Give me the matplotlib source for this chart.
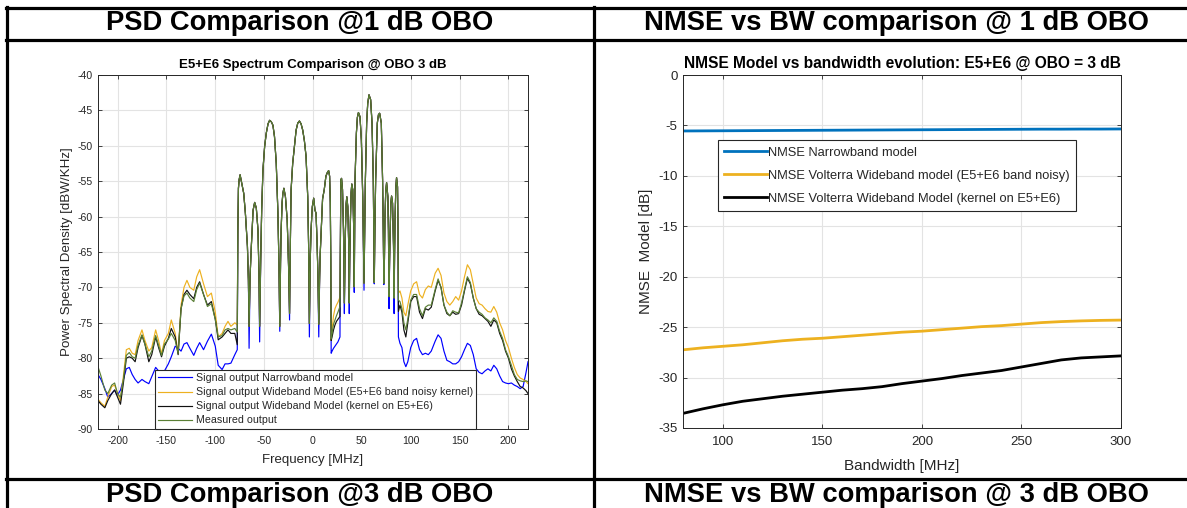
import matplotlib
matplotlib.use('Agg')
import matplotlib.pyplot as plt
import numpy as np
from matplotlib.lines import Line2D

plt.rcParams['font.family'] = ['Liberation Sans', 'DejaVu Sans']
plt.rcParams['axes.unicode_minus'] = False

# ------------------------------------------------------------------ data
# Table captions
header_top = ["PSD Comparison @1 dB OBO", "NMSE vs BW comparison @ 1 dB OBO"]
header_bottom = ["PSD Comparison @3 dB OBO", "NMSE vs BW comparison @ 3 dB OBO"]

psd_title = "E5+E6 Spectrum Comparison @ OBO 3 dB"
psd_labels = ["Signal output Narrowband model",
              "Signal output Wideband Model (E5+E6 band noisy kernel)",
              "Signal output Wideband Model (kernel on E5+E6)",
              "Measured output"]

# In-band lobes (E5 and E6), common to all curves
lobe_freq = [-76.9, -76.3, -75.6, -74.6, -73.2, -70.9, -69.2, -67.1, -66.1,
             -64.4, -63.1, -61.3, -59.7, -58.0, -56.3, -55.3,
             -53.5, -52.5, -51.2, -49.5, -47.8, -46.0, -44.4, -42.7, -41.0, -39.4, -37.6, -35.9, -34.8,
             -33.2, -32.6, -31.6, -30.8, -29.8, -28.2, -26.4, -25.0,
             -23.2, -22.4, -20.8, -19.0, -17.3, -15.6, -13.9, -12.2, -10.5, -8.8, -7.1, -5.4, -4.5,
             -2.8, -2.0, -0.7, 0.7, 2.0, 3.1, 4.1, 5.0,
             6.8, 7.4, 8.8, 9.8, 11.5, 13.2, 14.6, 16.0, 17.0, 17.7, 18.2,
             27.9, 28.5, 29.2, 30.2, 31.2, 31.7,
             32.6, 33.2, 33.9, 34.6, 35.6, 36.6,
             37.6, 38.3, 39.0, 39.7, 40.7, 41.7,
             42.6, 43.0, 44.4, 45.4, 46.5, 48.1, 49.5, 50.9, 51.6,
             52.8, 53.6, 54.9, 56.0, 57.3, 59.0, 60.4, 61.7, 62.2,
             63.3, 64.1, 65.8, 67.0, 68.2, 69.9, 71.2, 71.9,
             73.1, 73.6, 74.4, 75.3, 76.6, 77.2,
             78.4, 79.0, 79.7, 80.4, 81.4, 82.4,
             83.5, 84.1, 84.8, 85.5, 86.5, 87.0]
lobe_db = [-62.0, -56.0, -54.8, -54.1, -55.1, -56.7, -59.5, -64.2, -69.0,
           -68.5, -64.2, -59.1, -58.0, -58.8, -61.9, -68.0,
           -66.0, -59.0, -53.4, -50.1, -48.2, -46.9, -46.4, -46.6, -47.1, -48.7, -52.5, -59.5, -67.0,
           -66.5, -61.9, -58.0, -56.7, -56.0, -57.2, -60.5, -67.0,
           -64.0, -56.2, -52.5, -50.1, -47.8, -46.8, -46.5, -46.9, -47.8, -49.3, -51.5, -57.2, -64.0,
           -66.0, -61.9, -58.6, -57.4, -59.1, -59.5, -63.3, -68.0,
           -68.5, -65.2, -60.5, -57.5, -56.2, -54.3, -53.8, -53.5, -54.3, -58.0, -66.0,
           -66.0, -54.8, -54.6, -56.2, -61.9, -67.0,
           -67.0, -61.9, -58.2, -57.2, -58.6, -64.2,
           -66.0, -60.5, -56.6, -55.4, -56.2, -61.9,
           -62.0, -54.8, -48.2, -46.0, -45.3, -45.9, -49.2, -57.2, -64.0,
           -63.0, -54.8, -46.8, -44.0, -42.8, -43.5, -46.8, -54.8, -62.0,
           -62.0, -54.8, -46.8, -45.6, -45.4, -46.8, -54.8, -62.0,
           -66.0, -60.5, -56.5, -55.2, -57.2, -62.0,
           -66.0, -61.9, -58.0, -57.1, -58.1, -64.2,
           -65.0, -59.5, -55.8, -54.5, -55.8, -62.0]

# Null depths between lobes
null_freq = [-65.4, -54.6, -34.0, -24.0, -3.7, 5.9, 32.1, 37.1, 42.2, 52.2, 62.7, 72.5, 77.8, 83.0]
null_db_measured = [-75.5, -75.5, -75.5, -73.7, -75.1, -75.2, -72.2, -72.2, -69.9, -69.4, -69.3, -69.4, -71.3, -71.5]
null_db_narrowband = [-78.6, -77.7, -76.2, -74.6, -77.0, -77.0, -73.7, -73.7, -70.7, -70.4, -69.5, -69.6, -73.0, -73.7]

# Left out-of-band skirt
left_freq = [-220, -217, -213, -210, -206, -203, -200, -197, -194, -191, -188, -185, -182, -179,
             -175, -172, -168, -165, -161, -158, -155, -152, -148, -145, -141, -138, -135, -132,
             -129, -126, -122, -119, -116, -112, -108, -104, -100, -97, -93, -90, -87, -84, -80, -77.5]
left_narrowband = [-82.3, -83.0, -84.3, -85.5, -85.0, -84.5, -85.2, -84.5, -83.0, -81.5, -81.3, -82.3,
                   -83.0, -83.5, -83.0, -83.3, -83.6, -82.6, -81.3, -81.8, -82.4, -81.8, -80.8, -79.8,
                   -78.3, -78.6, -79.0, -78.0, -77.8, -78.6, -79.6, -78.6, -77.8, -78.8, -77.6, -76.6,
                   -78.3, -81.0, -81.6, -80.8, -80.8, -80.7, -79.5, -78.8]
left_wb_noisy = [-85.8, -86.3, -86.8, -85.5, -84.0, -83.8, -85.0, -86.0, -82.5, -78.8, -78.6, -79.3,
                 -79.5, -77.5, -76.0, -77.5, -79.0, -78.5, -76.0, -77.5, -79.4, -77.5, -76.5, -74.6,
                 -76.5, -79.3, -72.5, -70.0, -69.0, -70.0, -70.4, -68.5, -67.5, -69.5, -71.3, -70.8,
                 -73.5, -77.0, -76.5, -75.5, -74.8, -75.5, -75.0, -75.3]
left_wb_kernel = [-86.0, -86.5, -87.0, -86.0, -85.0, -84.5, -85.5, -86.5, -83.5, -80.0, -79.8, -80.0,
                  -80.5, -78.5, -76.8, -78.0, -80.5, -79.5, -77.0, -78.5, -79.8, -78.3, -77.2, -75.8,
                  -77.0, -79.5, -73.0, -71.0, -70.4, -71.0, -71.6, -70.0, -69.2, -71.0, -72.5, -72.0,
                  -74.5, -77.4, -77.0, -76.5, -76.0, -76.5, -76.5, -78.1]
left_measured = [-81.2, -82.5, -84.5, -85.0, -83.8, -83.5, -85.0, -85.5, -83.0, -79.6, -79.2, -79.8,
                 -80.0, -78.2, -76.7, -78.0, -79.8, -79.0, -76.8, -78.2, -79.6, -78.0, -77.3, -76.5,
                 -77.5, -79.3, -73.0, -71.2, -70.8, -71.5, -72.0, -70.3, -69.4, -71.0, -72.7, -72.3,
                 -74.5, -77.0, -76.8, -76.0, -75.8, -76.0, -75.8, -76.3]

# Gap between E5 and E6
gap_freq = [18.6, 19.5, 21.0, 22.5, 24.0, 25.5, 27.0, 27.6]
gap_narrowband = [-79.3, -79.0, -78.6, -78.3, -78.0, -77.7, -77.2, -77.0]
gap_wb_noisy = [-77.5, -76.0, -74.0, -73.0, -72.5, -72.1, -71.6, -71.3]
gap_wb_kernel = [-77.5, -77.0, -76.0, -75.3, -74.8, -74.5, -74.2, -74.1]
gap_measured = [-77.3, -76.5, -75.2, -74.6, -74.0, -73.5, -72.9, -72.7]

# Right out-of-band skirt
right_freq = [87.4, 89, 91, 93, 95, 97, 100, 103, 106, 109, 112, 115, 118, 121, 125, 128, 131, 134,
              137, 140, 143, 146, 149, 152, 155, 158, 161, 164, 167, 170, 173, 176, 179, 182, 185,
              188, 191, 194, 197, 200, 203, 206, 209, 212, 215, 218, 220]
right_wb_noisy = [-70.8, -70.5, -71.5, -73.5, -74.0, -72.5, -70.5, -69.5, -69.2, -71.0, -71.5, -70.3,
                  -69.8, -70.0, -68.0, -67.3, -68.3, -70.8, -72.0, -72.5, -72.0, -71.3, -71.8, -70.5,
                  -68.5, -66.8, -67.5, -69.5, -71.5, -72.3, -72.5, -73.0, -73.4, -73.5, -72.7, -73.5,
                  -75.0, -76.0, -77.5, -78.5, -80.0, -81.3, -82.3, -82.8, -83.0, -83.3, -83.6]
right_wb_kernel = [-73.4, -72.5, -73.5, -76.0, -77.0, -75.0, -72.0, -71.3, -71.3, -73.5, -74.4, -73.0,
                   -73.2, -72.8, -70.5, -69.0, -70.0, -72.5, -73.7, -74.0, -73.5, -73.8, -73.7, -72.5,
                   -70.5, -68.7, -69.5, -71.5, -73.0, -73.8, -74.0, -74.4, -74.8, -75.5, -74.6, -75.0,
                   -76.5, -77.5, -79.0, -80.0, -81.5, -82.5, -83.3, -84.0, -84.2, -84.6, -85.0]
right_measured = [-71.8, -72.0, -73.0, -75.0, -76.0, -74.5, -71.8, -71.0, -71.0, -73.0, -74.0, -72.8,
                  -72.5, -72.5, -70.3, -68.8, -70.0, -72.5, -73.5, -74.0, -73.3, -73.5, -73.6, -72.2,
                  -70.3, -68.5, -69.3, -71.5, -73.0, -73.5, -73.8, -74.3, -74.6, -75.0, -74.3, -74.8,
                  -76.2, -77.2, -78.8, -79.8, -81.0, -82.3, -83.0, -83.2, -83.3, -83.2, -83.3]
right_narrowband = [-77.0, -77.9, -78.5, -80.5, -81.2, -80.5, -78.5, -77.5, -77.2, -78.8, -79.5, -79.3,
                    -79.5, -79.0, -77.6, -76.7, -77.2, -79.0, -80.3, -80.5, -80.8, -80.8, -80.5, -79.8,
                    -78.8, -77.9, -78.2, -79.5, -81.5, -82.0, -82.2, -81.8, -81.5, -81.8, -81.0, -81.5,
                    -82.5, -83.3, -83.5, -83.6, -83.5, -83.8, -84.0, -84.3, -84.0, -82.0, -80.5]

# NMSE vs bandwidth
nmse_title = "NMSE Model vs bandwidth evolution: E5+E6 @ OBO = 3 dB"
nmse_labels = ["NMSE Narrowband model",
               "NMSE Volterra Wideband model (E5+E6 band noisy)",
               "NMSE Volterra Wideband Model (kernel on E5+E6)"]
bandwidth = [80, 90, 100, 110, 120, 130, 140, 150, 160, 170, 180, 190, 200, 210, 220, 230,
             240, 250, 260, 270, 280, 290, 300]
nmse_narrowband = [-5.55, -5.54, -5.53, -5.52, -5.51, -5.50, -5.49, -5.48, -5.47, -5.46, -5.45,
                   -5.44, -5.43, -5.42, -5.41, -5.40, -5.39, -5.38, -5.37, -5.37, -5.36, -5.36, -5.35]
nmse_wb_noisy = [-27.25, -27.05, -26.9, -26.75, -26.55, -26.35, -26.2, -26.1, -25.95, -25.8, -25.65,
                 -25.5, -25.4, -25.25, -25.1, -24.95, -24.85, -24.7, -24.55, -24.45, -24.38, -24.33, -24.3]
nmse_wb_kernel = [-33.55, -33.1, -32.7, -32.35, -32.1, -31.85, -31.65, -31.45, -31.25, -31.1, -30.9,
                  -30.6, -30.35, -30.1, -29.8, -29.55, -29.3, -28.95, -28.6, -28.25, -28.05, -27.95, -27.85]

# ------------------------------------------------------------------ figure
W, H = 1187, 508
fig = plt.figure(figsize=(W / 100, H / 100), dpi=100)


def fx(x):
    return x / W


def fy(y):
    return 1 - y / H


# table frame
tlw = 2.3
for yy in (8, 40, 479):
    fig.add_artist(Line2D([fx(6), fx(1187)], [fy(yy), fy(yy)], color='black', lw=tlw,
                          transform=fig.transFigure))
for xx in (7, 594):
    fig.add_artist(Line2D([fx(xx), fx(xx)], [fy(7), fy(508)], color='black', lw=tlw,
                          transform=fig.transFigure))

hdr_kw = dict(ha='center', va='center', fontsize=19.7, fontweight='bold', color='black',
              transform=fig.transFigure)
fig.text(fx(300), fy(23), header_top[0], **hdr_kw)
fig.text(fx(896), fy(23), header_top[1], **hdr_kw)
fig.text(fx(300), fy(495), header_bottom[0], **hdr_kw)
fig.text(fx(896), fy(495), header_bottom[1], **hdr_kw)

axis_col = '#262626'
grid_col = '#e3e3e3'


def style_axes(ax, tick_fs, xpad=4):
    ax.grid(True, color=grid_col, lw=0.8)
    ax.set_axisbelow(True)
    for s in ax.spines.values():
        s.set_color(axis_col)
        s.set_linewidth(0.7)
    ax.tick_params(direction='in', length=3, width=0.6, colors=axis_col, labelsize=tick_fs,
                   top=True, right=True, pad=4)
    ax.tick_params(axis='x', pad=xpad)


# ---------------- PSD axes
ax1 = fig.add_axes([fx(98), fy(429), fx(528) - fx(98), fy(75) - fy(429)])
style_axes(ax1, 7.6, xpad=5)


def build(left_vals, gap_vals, right_vals, null_vals):
    f = np.concatenate([left_freq, lobe_freq, null_freq, gap_freq, right_freq])
    v = np.concatenate([left_vals, lobe_db, null_vals, gap_vals, right_vals])
    o = np.argsort(f)
    return f[o], v[o]


series = [
    (left_narrowband, gap_narrowband, right_narrowband, null_db_narrowband, '#0000ff'),
    (left_wb_noisy, gap_wb_noisy, right_wb_noisy, null_db_measured, '#edb120'),
    (left_wb_kernel, gap_wb_kernel, right_wb_kernel, null_db_measured, '#111111'),
    (left_measured, gap_measured, right_measured, null_db_measured, '#5a7f35'),
]
for (lv, gv, rv, nv, col), lab in zip(series, psd_labels):
    f, v = build(lv, gv, rv, nv)
    ax1.plot(f, v, color=col, lw=0.85, label=lab)

ax1.set_xlim(-220, 220)
ax1.set_ylim(-90, -40)
ax1.set_xticks(np.arange(-200, 201, 50))
ax1.set_yticks(np.arange(-90, -39, 5))
ax1.set_xlabel("Frequency [MHz]", fontsize=9.5, color=axis_col, labelpad=6)
ax1.set_ylabel("Power Spectral Density [dBW/KHz]", fontsize=9.6, color=axis_col, labelpad=3)
ax1.set_title(psd_title, fontsize=9.5, fontweight='bold', color='black', pad=5)
leg1 = ax1.legend(loc='upper left', bbox_to_anchor=(fx(155), fy(370)), bbox_transform=fig.transFigure,
                  fontsize=7.7, frameon=True, fancybox=False, framealpha=1, edgecolor=axis_col,
                  handlelength=3.2, handletextpad=0.3, labelspacing=0.38, borderpad=0.3,
                  borderaxespad=0)
leg1.get_frame().set_linewidth(0.8)
for t in leg1.get_texts():
    t.set_color(axis_col)

# ---------------- NMSE axes
ax2 = fig.add_axes([fx(683), fy(428), fx(1121) - fx(683), fy(75) - fy(428)])
style_axes(ax2, 9.5, xpad=6)
ax2.plot(bandwidth, nmse_narrowband, color='#0072bd', lw=2.0, label=nmse_labels[0])
ax2.plot(bandwidth, nmse_wb_noisy, color='#edb120', lw=2.0, label=nmse_labels[1])
ax2.plot(bandwidth, nmse_wb_kernel, color='#000000', lw=2.0, label=nmse_labels[2])
ax2.set_xlim(80, 300)
ax2.set_ylim(-35, 0)
ax2.set_xticks([100, 150, 200, 250, 300])
ax2.set_yticks(np.arange(-35, 1, 5))
ax2.set_xlabel("Bandwidth [MHz]", fontsize=11, color=axis_col, labelpad=8)
ax2.set_ylabel("NMSE  Model [dB]", fontsize=11, color=axis_col, labelpad=4)
ax2.set_title(nmse_title, fontsize=11.2, fontweight='bold', color='black', pad=5)
leg2 = ax2.legend(loc='upper left', bbox_to_anchor=(fx(718), fy(140)), bbox_transform=fig.transFigure,
                  fontsize=9.3, frameon=True, fancybox=False, framealpha=1, edgecolor=axis_col,
                  handlelength=3.3, handletextpad=0.1, labelspacing=0.85, borderpad=0.5,
                  borderaxespad=0)
leg2.get_frame().set_linewidth(0.8)
for t in leg2.get_texts():
    t.set_color(axis_col)

fig.savefig('out.png', dpi=100)
